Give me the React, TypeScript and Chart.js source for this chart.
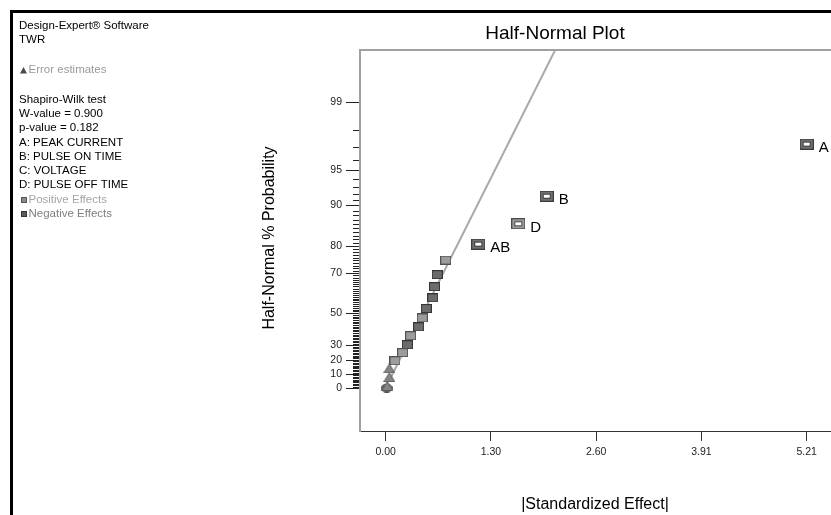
import React, { useEffect, useRef } from "react";
import { Chart, registerables } from "chart.js";

Chart.register(...registerables);

// ---------- data ----------
const errorX = [0.02, 0.045, 0.045];
const errorP = [1.5, 7.7, 14.0];

const zeroX = [0.012];
const zeroP = [0];

const positiveX = [0.115, 0.21, 0.309, 0.453, 0.743];
const positiveP = [19.4, 25.0, 36.2, 47.2, 75.1];

const negativeX = [0.267, 0.408, 0.502, 0.582, 0.604, 0.637];
const negativeP = [30.3, 41.8, 52.6, 58.3, 63.9, 69.3];

const namedLabels = ["AB", "D", "B", "A"];
const namedX = [1.146, 1.641, 1.993, 5.21];
const namedP = [80.5, 86.1, 91.6, 97.2];
const namedSign = ["neg", "pos", "neg", "neg"];

const fitX = [0.066, 2.1];
const fitP = [7.9, 99.77];

const yMajorPercents = [0, 10, 20, 30, 50, 70, 80, 90, 95, 99];
const yMinorPercents = Array.from({ length: 100 }, (_, i) => i);

const xTickValues = [0, 1.3025, 2.605, 3.9075, 5.21];
const xTickLabels = ["0.00", "1.30", "2.60", "3.91", "5.21"];

const titleText = "Half-Normal Plot";
const xTitle = "|Standardized Effect|";
const yTitle = "Half-Normal % Probability";

const noteLines = [
  "Design-Expert\u00AE Software",
  "TWR",
  "Error estimates",
  "Shapiro-Wilk test",
  "W-value = 0.900",
  "p-value = 0.182",
  "A: PEAK CURRENT",
  "B: PULSE ON TIME",
  "C: VOLTAGE",
  "D: PULSE OFF TIME",
  "Positive Effects",
  "Negative Effects",
];

// ---------- helpers ----------
function probit(p: number): number {
  const a = [-3.969683028665376e1, 2.209460984245205e2, -2.759285104469687e2, 1.38357751867269e2, -3.066479806614716e1, 2.506628277459239];
  const b = [-5.447609879822406e1, 1.615858368580409e2, -1.556989798598866e2, 6.680131188771972e1, -1.328068155288572e1];
  const c = [-7.784894002430293e-3, -3.223964580411365e-1, -2.400758277161838, -2.549732539343734, 4.374664141464968, 2.938163982698783];
  const d = [7.784695709041462e-3, 3.224671290700398e-1, 2.445134137142996, 3.754408661907416];
  const pl = 0.02425;
  const ph = 1 - pl;
  if (p < pl) {
    const q = Math.sqrt(-2 * Math.log(p));
    return (((((c[0] * q + c[1]) * q + c[2]) * q + c[3]) * q + c[4]) * q + c[5]) / ((((d[0] * q + d[1]) * q + d[2]) * q + d[3]) * q + 1);
  }
  if (p <= ph) {
    const q = p - 0.5;
    const r = q * q;
    return ((((((a[0] * r + a[1]) * r + a[2]) * r + a[3]) * r + a[4]) * r + a[5]) * q) / (((((b[0] * r + b[1]) * r + b[2]) * r + b[3]) * r + b[4]) * r + 1);
  }
  const q = Math.sqrt(-2 * Math.log(1 - p));
  return -(((((c[0] * q + c[1]) * q + c[2]) * q + c[3]) * q + c[4]) * q + c[5]) / ((((d[0] * q + d[1]) * q + d[2]) * q + d[3]) * q + 1);
}
const hz = (pct: number) => (pct <= 0 ? 0 : probit((1 + pct / 100) / 2));

const FONT = "'Liberation Sans', Arial, Helvetica, sans-serif";

function makeMarker(w: number, h: number, draw: (ctx: CanvasRenderingContext2D) => void) {
  const c = document.createElement("canvas");
  c.width = w;
  c.height = h;
  const ctx = c.getContext("2d")!;
  draw(ctx);
  return c;
}

function squareMarker(border: string, fill: string) {
  return makeMarker(11, 9, (ctx) => {
    ctx.fillStyle = border;
    ctx.fillRect(0, 0, 11, 9);
    ctx.fillStyle = fill;
    ctx.fillRect(1, 1, 9, 7);
  });
}

function ringMarker(outer: string, band: string) {
  return makeMarker(14, 11, (ctx) => {
    ctx.fillStyle = outer;
    ctx.fillRect(0, 0, 14, 11);
    ctx.fillStyle = band;
    ctx.fillRect(1, 1, 12, 9);
    ctx.fillStyle = outer;
    ctx.fillRect(3, 3, 8, 5);
    ctx.fillStyle = "#ffffff";
    ctx.fillRect(4, 4, 6, 3);
  });
}

function triangleMarker() {
  return makeMarker(12, 10, (ctx) => {
    ctx.beginPath();
    ctx.moveTo(0.5, 9.5);
    ctx.lineTo(6, 0.5);
    ctx.lineTo(11.5, 9.5);
    ctx.closePath();
    ctx.fillStyle = "#858585";
    ctx.fill();
    ctx.strokeStyle = "#5a5a5a";
    ctx.lineWidth = 1;
    ctx.stroke();
  });
}

function ellipseMarker() {
  return makeMarker(12, 9, (ctx) => {
    ctx.beginPath();
    ctx.ellipse(6, 4.5, 5.5, 4, 0, 0, Math.PI * 2);
    ctx.fillStyle = "#6a6a6a";
    ctx.fill();
    ctx.strokeStyle = "#404040";
    ctx.lineWidth = 1;
    ctx.stroke();
  });
}

export default function App() {
  const ref = useRef<HTMLCanvasElement | null>(null);

  useEffect(() => {
    if (!ref.current) return;
    const posMarker = squareMarker("#505050", "#9c9c9c");
    const negMarker = squareMarker("#353535", "#6b6b6b");
    const triMarker = triangleMarker();
    const ellMarker = ellipseMarker();
    const ringNeg = ringMarker("#3c3c3c", "#707070");
    const ringPos = ringMarker("#4a4a4a", "#9a9a9a");

    const decor = {
      id: "decor",
      beforeDraw(chart: any) {
        const ctx = chart.ctx as CanvasRenderingContext2D;
        ctx.save();
        ctx.fillStyle = "#ffffff";
        ctx.fillRect(0, 0, chart.width, chart.height);
        ctx.restore();
      },
      afterDraw(chart: any) {
        const ctx = chart.ctx as CanvasRenderingContext2D;
        const area = chart.chartArea;
        const ys = chart.scales.y;
        ctx.save();
        // outer frame
        ctx.fillStyle = "#000";
        ctx.fillRect(10, 10, 3, chart.height - 10);
        ctx.fillRect(10, 10, chart.width - 10, 3);
        // top border of plot
        ctx.fillStyle = "#a0a0a0";
        ctx.fillRect(area.left - 1, area.top - 1, area.right - area.left + 1, 2);
        // y tick marks
        ctx.strokeStyle = "#222";
        ctx.lineWidth = 1;
        for (const p of yMinorPercents) {
          const y = Math.round(ys.getPixelForValue(hz(p))) + 0.5;
          const major = yMajorPercents.includes(p);
          ctx.beginPath();
          ctx.moveTo(area.left - (major ? 14 : 7), y);
          ctx.lineTo(area.left - 1, y);
          ctx.stroke();
        }
        // title
        ctx.fillStyle = "#000";
        ctx.textAlign = "center";
        ctx.textBaseline = "middle";
        ctx.font = `19px ${FONT}`;
        ctx.fillText(titleText, 555, 34);
        // axis titles
        ctx.font = `16px ${FONT}`;
        ctx.fillText(xTitle, 595, 505);
        ctx.save();
        ctx.translate(270, 238);
        ctx.rotate(-Math.PI / 2);
        ctx.fillText(yTitle, 0, 0);
        ctx.restore();
        // point labels
        const meta = chart.getDatasetMeta(4);
        ctx.textAlign = "left";
        ctx.font = `15px ${FONT}`;
        meta.data.forEach((el: any, i: number) => {
          ctx.fillText(namedLabels[i], el.x + 12, el.y + 4);
        });
        // notes panel
        const lineY = [26, 40, 70, 100, 114, 128.3, 142.7, 156.7, 171, 185.3, 200, 214.3];
        const colors = ["#000", "#000", "#9a9a9a", "#000", "#000", "#000", "#000", "#000", "#000", "#000", "#a6a6a6", "#808080"];
        ctx.font = `11.5px ${FONT}`;
        ctx.textBaseline = "middle";
        noteLines.forEach((t, i) => {
          const icon = i === 2 || i === 10 || i === 11;
          ctx.fillStyle = colors[i];
          ctx.fillText(t, icon ? 28.5 : 19, lineY[i]);
        });
        // icons
        ctx.fillStyle = "#4a4a4a";
        ctx.beginPath();
        ctx.moveTo(20, 73.5);
        ctx.lineTo(23.5, 67);
        ctx.lineTo(27, 73.5);
        ctx.closePath();
        ctx.fill();
        ctx.fillStyle = "#555";
        ctx.fillRect(21, 197, 6, 6);
        ctx.fillStyle = "#8a8a8a";
        ctx.fillRect(22, 198, 4, 4);
        ctx.fillStyle = "#333";
        ctx.fillRect(21, 211, 6, 6);
        ctx.fillStyle = "#5a5a5a";
        ctx.fillRect(22, 212, 4, 4);
        ctx.restore();
      },
    };

    const chart = new Chart(ref.current, {
      type: "scatter",
      data: {
        datasets: [
          {
            label: "Positive",
            data: positiveX.map((x, i) => ({ x, y: hz(positiveP[i]) })),
            pointStyle: posMarker as any,
            pointRadius: 5,
          },
          {
            label: "Negative",
            data: negativeX.map((x, i) => ({ x, y: hz(negativeP[i]) })),
            pointStyle: negMarker as any,
            pointRadius: 5,
          },
          {
            label: "Error",
            data: errorX.map((x, i) => ({ x, y: hz(errorP[i]) })),
            pointStyle: triMarker as any,
            pointRadius: 5,
          },
          {
            label: "Zero",
            data: zeroX.map((x, i) => ({ x, y: hz(zeroP[i]) })),
            pointStyle: ellMarker as any,
            pointRadius: 5,
          },
          {
            label: "Named",
            data: namedX.map((x, i) => ({ x, y: hz(namedP[i]) })),
            pointStyle: namedSign.map((s) => (s === "pos" ? ringPos : ringNeg)) as any,
            pointRadius: 5,
          },
          {
            label: "Fit",
            data: fitX.map((x, i) => ({ x, y: hz(fitP[i]) })),
            showLine: true,
            borderColor: "#a8a8a8",
            borderWidth: 2,
            pointRadius: 0,
          },
        ],
      },
      options: {
        responsive: false,
        animation: false,
        devicePixelRatio: 1,
        layout: { autoPadding: false, padding: { top: 50, left: 0, right: 0, bottom: 0 } },
        plugins: { legend: { display: false }, title: { display: false }, tooltip: { enabled: false } },
        scales: {
          x: {
            type: "linear",
            position: "bottom",
            min: -0.318,
            max: 5.511,
            afterFit: (s: any) => {
              s.height = 84;
              s.paddingLeft = 0;
              s.paddingRight = 0;
            },
            afterBuildTicks: (s: any) => {
              s.ticks = xTickValues.map((v) => ({ value: v }));
            },
            border: { color: "#333", width: 1 },
            grid: { drawOnChartArea: false, drawTicks: true, tickLength: 10, color: "#333" },
            ticks: {
              autoSkip: false,
              maxRotation: 0,
              padding: 5,
              color: "#222",
              font: { family: FONT, size: 10.5 },
              callback: (_v: any, i: number) => xTickLabels[i],
            },
          },
          y: {
            type: "linear",
            position: "left",
            min: -0.387,
            max: 3.045,
            afterFit: (s: any) => {
              s.width = 360;
              s.paddingTop = 0;
              s.paddingBottom = 0;
            },
            afterBuildTicks: (s: any) => {
              s.ticks = yMajorPercents.map((p) => ({ value: hz(p) }));
            },
            border: { color: "#a0a0a0", width: 2 },
            grid: { drawOnChartArea: false, drawTicks: true, tickLength: 14, color: "rgba(0,0,0,0)" },
            ticks: {
              autoSkip: false,
              padding: 4,
              color: "#222",
              font: { family: FONT, size: 10.5 },
              callback: (_v: any, i: number) => String(yMajorPercents[i]),
            },
          },
        },
      },
      plugins: [decor],
    });
    return () => chart.destroy();
  }, []);

  return (
    <div style={{ position: "absolute", left: 0, top: 0, width: 831, height: 515, overflow: "hidden" }}>
      <canvas ref={ref} width={831} height={515} style={{ display: "block", width: 831, height: 515 }} />
    </div>
  );
}
